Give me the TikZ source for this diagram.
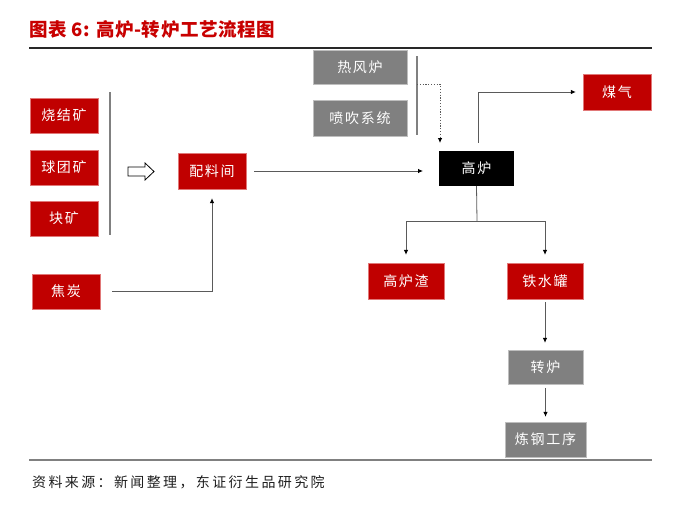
\documentclass[tikz,border=0pt]{standalone}
\usepackage{fontspec}
\setmainfont{Noto Sans CJK SC}
\newfontfamily\boxfont[LetterSpace=12]{Noto Sans CJK SC}
\newfontfamily\footfont[LetterSpace=17]{Noto Sans CJK SC}
\newfontfamily\titlefont[LetterSpace=3]{Noto Sans CJK SC}
\usetikzlibrary{arrows.meta}
\definecolor{boxred}{RGB}{192,0,0}
\definecolor{boxgray}{RGB}{128,128,128}
\definecolor{titlered}{RGB}{200,0,0}
\definecolor{linegray}{RGB}{90,90,90}
\definecolor{bargray}{RGB}{128,128,128}
\tikzset{
  base/.style={inner sep=0pt, text=white, font=\boxfont\fontsize{14}{16}\selectfont},
  redbox/.style={base, fill=boxred, draw={rgb,255:red,225;green,120;blue,120}, line width=0.4pt},
  graybox/.style={base, fill=boxgray, draw={rgb,255:red,190;green,190;blue,190}, line width=0.4pt},
  blackbox/.style={base, fill=black},
  conn/.style={draw=linegray, line width=0.8pt, -{Latex[length=5pt,width=4.5pt,color=black]}},
  bar/.style={draw=bargray, line width=1.6pt},
  dotconn/.style={draw=linegray, line width=0.8pt, dash pattern=on 1.2pt off 1.6pt, -{Latex[length=5pt,width=4.5pt,color=black]}}
}
\begin{document}
\begin{tikzpicture}[x=1pt,y=-1pt]
\useasboundingbox (0,0) rectangle (700,506);
% title and rules
\node[anchor=west, inner sep=0pt, text=titlered, font=\titlefont\bfseries\fontsize{18.5}{20}\selectfont] (title) at (29,29) {图表 6: 高炉-转炉工艺流程图};
\draw[line width=1.3pt, draw={rgb,255:red,40;green,40;blue,40}] (29,48) -- (652,48);
\draw[line width=2pt, draw=bargray] (29,460) -- (652,460);
\node[anchor=west, inner sep=0pt, text={rgb,255:red,30;green,30;blue,30}, font=\footfont\fontsize{14}{16}\selectfont] (src) at (32,482) {资料来源：新闻整理，东证衍生品研究院};

% boxes
\node[graybox, minimum width=94pt, minimum height=34pt] (rf) at (360,67) {热风炉};
\node[graybox, minimum width=94pt, minimum height=36pt] (pc) at (360,118) {喷吹系统};
\node[blackbox, minimum width=75pt, minimum height=35pt] (gl) at (476.5,168.5) {高炉};
\node[redbox, minimum width=68pt, minimum height=36pt] (mq) at (617,92) {煤气};
\node[redbox, minimum width=68pt, minimum height=35pt] (sj) at (64,115.5) {烧结矿};
\node[redbox, minimum width=68pt, minimum height=35pt] (qt) at (64,167.5) {球团矿};
\node[redbox, minimum width=68pt, minimum height=35pt] (kk) at (64,218.5) {块矿};
\node[redbox, minimum width=68pt, minimum height=36pt] (pl) at (212,171) {配料间};
\node[redbox, minimum width=68pt, minimum height=35pt] (jt) at (66,291.5) {焦炭};
\node[redbox, minimum width=76pt, minimum height=36pt] (gz) at (406,281) {高炉渣};
\node[redbox, minimum width=76pt, minimum height=36pt] (ts) at (545,281) {铁水罐};
\node[graybox, minimum width=75pt, minimum height=34pt] (zl) at (545.5,367) {转炉};
\node[graybox, minimum width=81pt, minimum height=35pt] (lg) at (545.5,439.5) {炼钢工序};

% bracket bars
\draw[bar] (110,92) -- (110,235);
\draw[bar] (417,56) -- (417,135);

% hollow arrow
\draw[line width=0.8pt, draw=black, fill=white]
  (128,167) -- (145,167) -- (145,163) -- (154,171.5) -- (145,180) -- (145,176) -- (128,176) -- cycle;

% connectors
\draw[conn, shorten <=8pt] (pl.east) -- (pl.east -| 423,0);
\draw[conn, shorten <=12pt, shorten >=9pt] (jt.east) -| (pl.south);
\draw[conn, shorten <=8pt, shorten >=7pt] (gl.north -| 478,0) |- (mq.west);
\coordinate (split) at (477,221);
\draw[draw=linegray, line width=0.8pt] (gl.south) -- (split);
\draw[conn, shorten >=8pt] (split) -| (gz.north);
\draw[conn, shorten >=8pt] (split) -| (ts.north);
\draw[conn, shorten <=3pt, shorten >=7pt] (ts.south) -- (zl.north -| ts.south);
\draw[conn, shorten <=4pt, shorten >=5pt] (zl.south) -- (lg.north);
\coordinate (dotstart) at (417,84);
\coordinate (dotend) at (440,143);
\draw[dotconn] (dotstart) -| (dotend);
\end{tikzpicture}
\end{document}
